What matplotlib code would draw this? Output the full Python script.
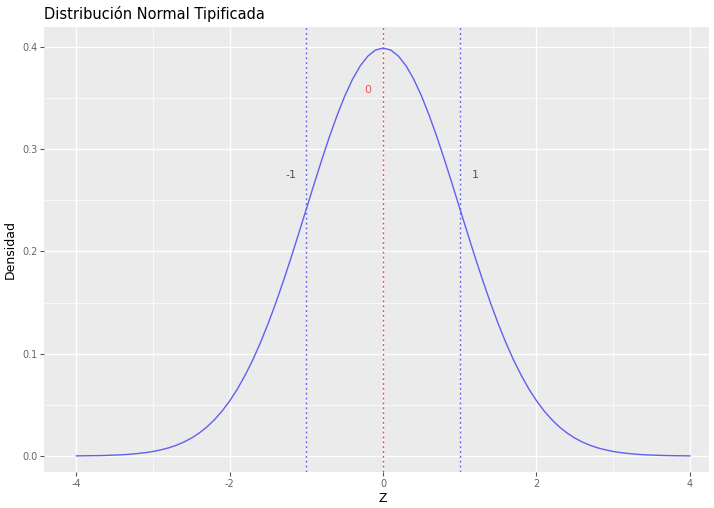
import matplotlib
matplotlib.use("Agg")
import matplotlib.pyplot as plt

# valores (densidad normal tipificada), paso 0.1
z = [round(-4.0 + 0.1 * i, 1) for i in range(81)]
densidad = [0.0001, 0.0002, 0.0003, 0.0004, 0.0006, 0.0009, 0.0012, 0.0017, 0.0024, 0.0033,
            0.0044, 0.0060, 0.0079, 0.0104, 0.0136, 0.0175, 0.0224, 0.0283, 0.0355, 0.0440,
            0.0540, 0.0656, 0.0790, 0.0940, 0.1109, 0.1295, 0.1497, 0.1714, 0.1942, 0.2179,
            0.2420, 0.2661, 0.2897, 0.3123, 0.3332, 0.3521, 0.3683, 0.3814, 0.3910, 0.3970,
            0.3989,
            0.3970, 0.3910, 0.3814, 0.3683, 0.3521, 0.3332, 0.3123, 0.2897, 0.2661, 0.2420,
            0.2179, 0.1942, 0.1714, 0.1497, 0.1295, 0.1109, 0.0940, 0.0790, 0.0656, 0.0540,
            0.0440, 0.0355, 0.0283, 0.0224, 0.0175, 0.0136, 0.0104, 0.0079, 0.0060, 0.0044,
            0.0033, 0.0024, 0.0017, 0.0012, 0.0009, 0.0006, 0.0004, 0.0003, 0.0002, 0.0001]

lineas_azules = [-1, 1]
linea_roja = 0
etiquetas = [("-1", -1.2, 0.275, "#555555"), ("0", -0.2, 0.358, "#F05050"), ("1", 1.2, 0.275, "#555555")]

xticks = [-4, -2, 0, 2, 4]
yticks = [0.0, 0.1, 0.2, 0.3, 0.4]

fig = plt.figure(figsize=(7.14, 5.08), dpi=100)
ax = fig.add_axes([0.062, 0.071, 0.931, 0.876])
ax.set_facecolor("#EBEBEB")

ax.plot(z, densidad, color="#6060EE", lw=1.0, zorder=3)
for v in lineas_azules:
    ax.axvline(v, color="#6A6AF0", ls=(0, (1.5, 2)), lw=1.0, zorder=2)
ax.axvline(linea_roja, color="#F05050", ls=(0, (1.5, 2)), lw=1.0, zorder=2)
for txt, x, y, c in etiquetas:
    ax.text(x, y, txt, color=c, fontsize=8, ha="center", va="center")

ax.set_xlim(-4.42, 4.25)
ax.set_ylim(-0.0156, 0.4196)
ax.set_xticks(xticks)
ax.set_xticklabels(["-4", "-2", "0", "2", "4"])
ax.set_yticks(yticks)
ax.set_yticklabels(["0.0", "0.1", "0.2", "0.3", "0.4"])
ax.set_xticks([-3, -1, 1, 3], minor=True)
ax.set_yticks([0.05, 0.15, 0.25, 0.35], minor=True)
ax.grid(which="major", color="white", lw=1.0)
ax.grid(which="minor", color="white", lw=0.5)
ax.set_axisbelow(True)
for s in ax.spines.values():
    s.set_visible(False)
ax.tick_params(which="major", length=3, color="#555555", labelsize=7, labelcolor="#666666", pad=2)
ax.tick_params(which="minor", length=0)

ax.set_xlabel("Z", fontsize=9, labelpad=3)
ax.xaxis.set_label_coords((0 + 4.42) / 8.67, -0.045)
ax.set_ylabel("Densidad", fontsize=9, labelpad=4)
fig.text(0.062, 0.972, "Distribución Normal Tipificada", fontsize=10.5, va="center", ha="left")

fig.savefig("out.png", dpi=100)
